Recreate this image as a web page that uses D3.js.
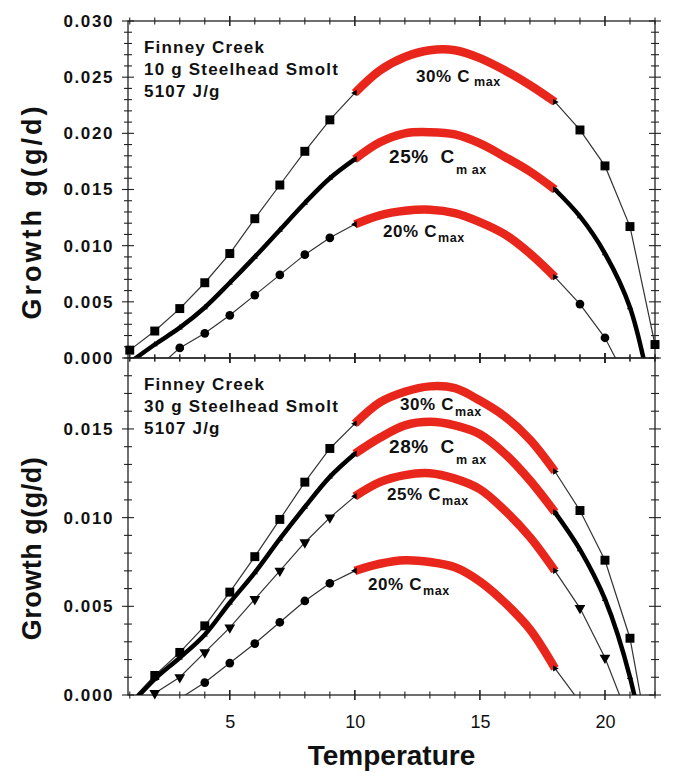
<!DOCTYPE html>
<html>
<head>
<meta charset="utf-8">
<script src="https://cdn.jsdelivr.net/npm/d3@7"></script>
<style>
  body { margin: 0; background: #fff; }
  text { font-family: Arial, "Liberation Sans", sans-serif; fill: #111; }
</style>
</head>
<body>
<svg id="chart" width="673" height="778"></svg>
<script>
// temperature (x) for every series point
var temperature = [1, 2, 3, 4, 5, 6, 7, 8, 9, 10, 11, 12, 13, 14, 15, 16, 17, 18, 19, 20, 21, 22];

// top panel: 10 g smolt
var top30 = [0.0007, 0.0024, 0.0044, 0.0067, 0.0093, 0.0124, 0.0154, 0.0184, 0.0212, 0.0236, 0.0256, 0.0268, 0.0274, 0.0274, 0.0267, 0.0256, 0.0243, 0.0228, 0.0203, 0.0171, 0.0117, 0.0012];
var top25 = [-0.0004, 0.0012, 0.0027, 0.0045, 0.0067, 0.0090, 0.0114, 0.0138, 0.0160, 0.0177, 0.0192, 0.0200, 0.0201, 0.0199, 0.0191, 0.0179, 0.0166, 0.0150, 0.0126, 0.0093, 0.0045, -0.0050];
var top20 = [-0.0032, -0.0011, 0.0009, 0.0022, 0.0038, 0.0056, 0.0074, 0.0092, 0.0107, 0.0119, 0.0127, 0.0131, 0.0132, 0.0129, 0.0121, 0.0110, 0.0093, 0.0072, 0.0048, 0.0018, -0.0025, -0.0080];

// bottom panel: 30 g smolt
var bot30 = [-0.0004, 0.0011, 0.0024, 0.0039, 0.0058, 0.0078, 0.0099, 0.0120, 0.0139, 0.0153, 0.0165, 0.0171, 0.0174, 0.0173, 0.0166, 0.0157, 0.0144, 0.0126, 0.0104, 0.0076, 0.0032, -0.0045];
var bot28 = [-0.0006, 0.0009, 0.0021, 0.0034, 0.0052, 0.0069, 0.0088, 0.0106, 0.0123, 0.0136, 0.0145, 0.0152, 0.0154, 0.0152, 0.0147, 0.0136, 0.0121, 0.0103, 0.0082, 0.0054, 0.0010, -0.0060];
var bot25 = [-0.0012, 0.0001, 0.0010, 0.0024, 0.0038, 0.0054, 0.0070, 0.0086, 0.0100, 0.0112, 0.0120, 0.0124, 0.0125, 0.0122, 0.0116, 0.0104, 0.0089, 0.0070, 0.0049, 0.0021, -0.0015, -0.0060];
var bot20 = [-0.0030, -0.0014, -0.0002, 0.0007, 0.0018, 0.0029, 0.0041, 0.0053, 0.0063, 0.0070, 0.0074, 0.0076, 0.0075, 0.0072, 0.0064, 0.0052, 0.0037, 0.0015, -0.0004, -0.0030, -0.0060, -0.0090];

// red part of each curve
var redFrom = 10, redTo = 18;

var xTicks = [5, 10, 15, 20];
var topYTicks = [0, 0.005, 0.010, 0.015, 0.020, 0.025, 0.030];
var botYTicks = [0, 0.005, 0.010, 0.015];

var panelText = ["Finney Creek", "Steelhead Smolt", "5107 J/g"];

var svg = d3.select('#chart');
var left = 128, right = 655;

var x = d3.scaleLinear().domain([0.93, 22]).range([left, right]);

var panels = [
    {top: 21, bottom: 358, max: 0.030, ticks: topYTicks, weight: "10 g",
     series: [
        {v: top30, sym: d3.symbolSquare, size: 80, thick: false, label: "30% C", lx: 416, ly: 82, sub: "max", sdx: 4, sdy: 4},
        {v: top25, sym: d3.symbolTriangle, size: 16, thick: true, label: "25% C", lx: 389, ly: 163, sub: "m ax", sdx: 1, sdy: 11, big: true},
        {v: top20, sym: d3.symbolCircle, size: 60, thick: false, label: "20% C", lx: 383, ly: 237, sub: "max", sdx: 1, sdy: 5}
     ]},
    {top: 358, bottom: 695, max: 0.019, ticks: botYTicks, weight: "30 g",
     series: [
        {v: bot30, sym: d3.symbolSquare, size: 80, thick: false, label: "30% C", lx: 400, ly: 410, sub: "max", sdx: 1, sdy: 6},
        {v: bot28, sym: d3.symbolTriangle, size: 16, thick: true, label: "28% C", lx: 389, ly: 453, sub: "m ax", sdx: 1, sdy: 11, big: true},
        {v: bot25, sym: d3.symbolTriangle, size: 50, thick: false, down: true, label: "25% C", lx: 387, ly: 500, sub: "max", sdx: 1, sdy: 5},
        {v: bot20, sym: d3.symbolCircle, size: 60, thick: false, label: "20% C", lx: 368, ly: 590, sub: "max", sdx: 1, sdy: 5}
     ]}
];

panels.forEach(function(p, pi) {
    var y = d3.scaleLinear().domain([0, p.max]).range([p.bottom, p.top]);
    var g = svg.append("g");

    var clipId = "clip" + pi;
    svg.append("clipPath").attr("id", clipId)
        .append("rect")
        .attr("x", left).attr("y", p.top)
        .attr("width", right - left).attr("height", p.bottom - p.top);

    // frame
    g.append("rect")
        .attr("x", left).attr("y", p.top)
        .attr("width", right - left).attr("height", p.bottom - p.top)
        .attr("fill", "none").attr("stroke", "#222").attr("stroke-width", 1.3);

    // crossing ticks on all four sides
    var xMinor = d3.range(1, 23);
    var yMinor = d3.range(0, Math.round(p.max * 1000) + 1).map(function(d) { return d / 1000; });
    var tickG = g.append("g").attr("stroke", "#222").attr("stroke-width", 1.1);
    [p.bottom, p.top].forEach(function(yy) {
        tickG.selectAll(null).data(xMinor).enter().append("line")
            .attr("x1", function(d) { return x(d); }).attr("x2", function(d) { return x(d); })
            .attr("y1", function(d) { return yy - (d % 5 === 0 ? 5 : 3.5); })
            .attr("y2", function(d) { return yy + (d % 5 === 0 ? 5 : 3.5); })
            .attr("stroke-width", function(d) { return d % 5 === 0 ? 1.6 : 1.1; });
    });
    [left, right].forEach(function(xx) {
        tickG.selectAll(null).data(yMinor).enter().append("line")
            .attr("y1", function(d) { return y(d); }).attr("y2", function(d) { return y(d); })
            .attr("x1", function(d) { return xx - (Math.round(d * 1000) % 5 === 0 ? 6 : 4); })
            .attr("x2", function(d) { return xx + (Math.round(d * 1000) % 5 === 0 ? 6 : 4); });
    });

    // y tick labels
    g.append("g")
        .attr("transform", "translate(" + left + ",0)")
        .call(d3.axisLeft(y).tickValues(p.ticks).tickSize(0).tickPadding(14).tickFormat(d3.format(".3f")))
        .call(function(a) { a.select(".domain").remove(); })
        .selectAll("text")
        .attr("font-size", 17).attr("font-weight", "bold")
        .attr("letter-spacing", 1.6).attr("font-family", "Arial, 'Liberation Sans', sans-serif")
        .attr("fill", "#111");

    // y title
    g.append("text")
        .attr("transform", "translate(41," + ((p.top + p.bottom) / 2 + 22) + ") rotate(-90)")
        .attr("text-anchor", "middle")
        .attr("font-size", 27).attr("font-weight", "bold")
        .attr("letter-spacing", pi === 0 ? 3 : 0.5)
        .text("Growth g(g/d)");

    // annotation
    var note = g.append("text").attr("font-size", 17).attr("font-weight", "bold").attr("letter-spacing", 1.2);
    [panelText[0], p.weight + " " + panelText[1], panelText[2]].forEach(function(t, i) {
        note.append("tspan").attr("x", 144).attr("y", p.top + 32 + i * 22).text(t);
    });

    var lineG = g.append("g").attr("clip-path", "url(#" + clipId + ")");

    p.series.forEach(function(s) {
        var pts = temperature.map(function(t, i) { return {t: t, v: s.v[i]}; });
        var lowPart = pts.filter(function(d) { return d.t <= redFrom; });
        var highPart = pts.filter(function(d) { return d.t >= redTo; });
        var redPart = pts.filter(function(d) { return d.t >= redFrom && d.t <= redTo; });

        var line = d3.line().x(function(d) { return x(d.t); }).y(function(d) { return y(d.v); });
        var smooth = d3.line().curve(d3.curveCatmullRom.alpha(0.5))
            .x(function(d) { return x(d.t); }).y(function(d) { return y(d.v); });

        [lowPart, highPart].forEach(function(part) {
            lineG.append("path")
                .attr("d", (s.thick ? smooth : line)(part))
                .attr("fill", "none")
                .attr("stroke", s.thick ? "#000" : "#333")
                .attr("stroke-width", s.thick ? 4.5 : 1.2);
        });

        lineG.append("path")
            .attr("d", smooth(redPart))
            .attr("fill", "none")
            .attr("stroke", "#e8261c")
            .attr("stroke-width", 8.5);

        // markers
        var marks = pts.filter(function(d) { return (d.t < redFrom || d.t > redTo) && d.v >= 0; });
        g.selectAll(null).data(marks).enter().append("path")
            .attr("d", d3.symbol().type(s.sym).size(s.size))
            .attr("transform", function(d) {
                return "translate(" + x(d.t) + "," + y(d.v) + ")" + (s.down ? " rotate(180)" : "");
            })
            .attr("fill", "#000");

        // small end markers at the red part
        g.selectAll(null).data(pts.filter(function(d) { return d.t === redFrom || d.t === redTo; }))
            .enter().append("path")
            .attr("d", d3.symbol().type(d3.symbolTriangle).size(18))
            .attr("transform", function(d) {
                return "translate(" + x(d.t) + "," + y(d.v) + ") rotate(" + (d.t === redFrom ? -90 : 90) + ")";
            })
            .attr("fill", "#000");

        // label
        var lab = g.append("text")
            .attr("x", s.lx).attr("y", s.ly)
            .attr("font-size", s.big ? 19 : 17).attr("font-weight", "bold")
            .attr("letter-spacing", 0.6)
            .text(s.big ? s.label.replace(" ", "  ") : s.label);
        lab.attr("xml:space", "preserve");
        lab.append("tspan")
            .attr("dx", s.sdx).attr("dy", s.sdy)
            .attr("font-size", 12.5)
            .text(s.sub);
    });

    // x tick labels on the bottom panel
    if (pi === 1) {
        g.append("g")
            .attr("transform", "translate(0," + p.bottom + ")")
            .call(d3.axisBottom(x).tickValues(xTicks).tickSize(0).tickPadding(20).tickFormat(d3.format("d")))
            .call(function(a) { a.select(".domain").remove(); })
            .selectAll("text")
            .attr("font-size", 18).attr("font-family", "Arial, 'Liberation Sans', sans-serif")
            .attr("fill", "#222");
    }
});

svg.append("text")
    .attr("x", (left + right) / 2).attr("y", 765)
    .attr("text-anchor", "middle")
    .attr("font-size", 28).attr("font-weight", "bold")
    .text("Temperature");
</script>
</body>
</html>
